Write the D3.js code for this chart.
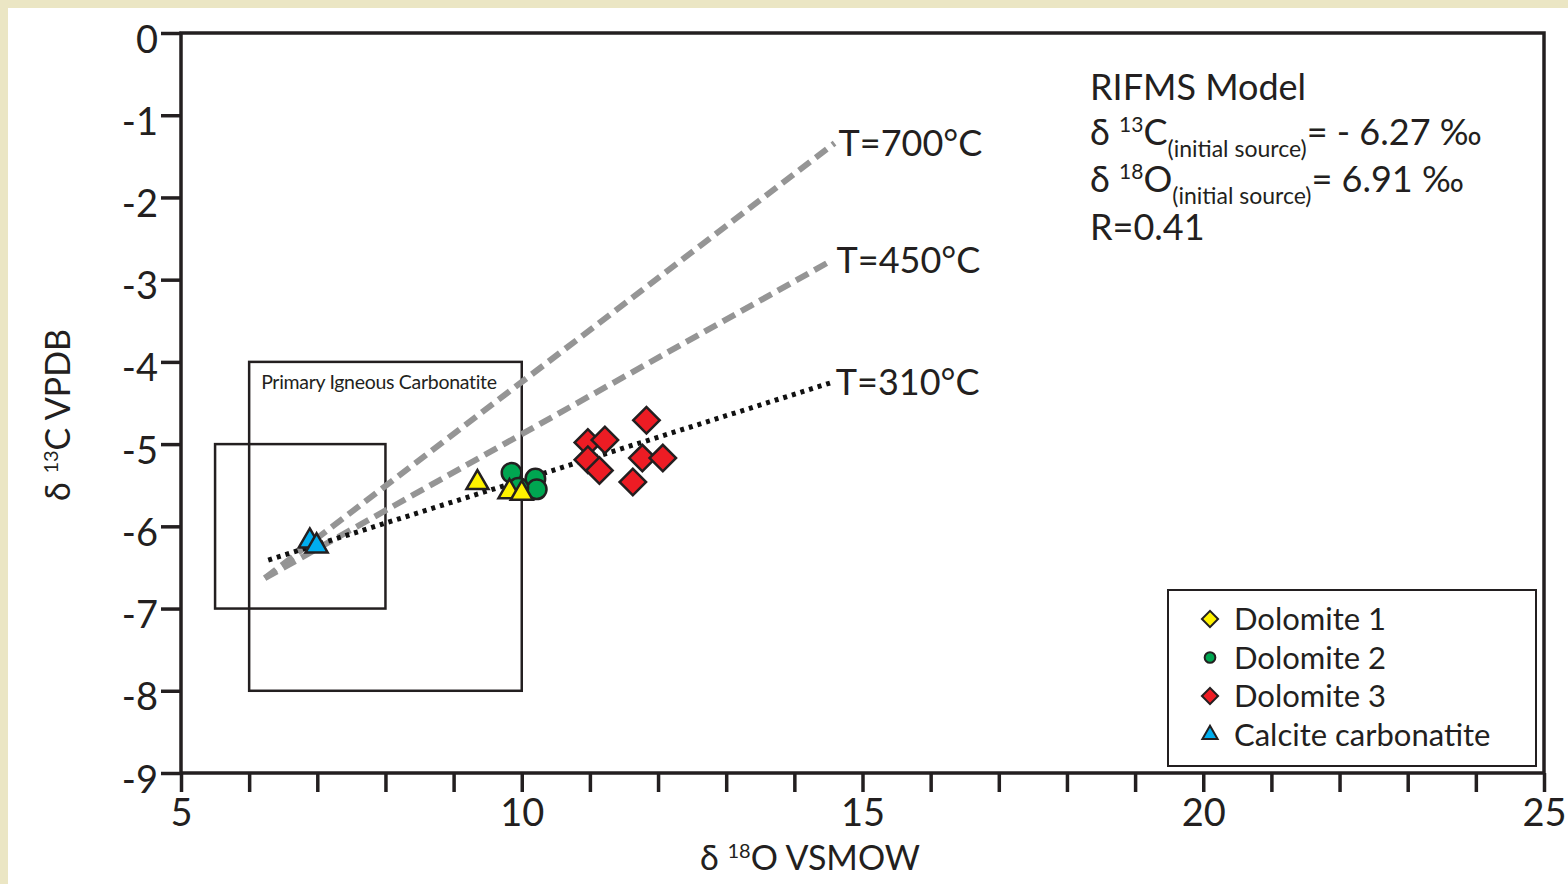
<!DOCTYPE html>
<html>
<head>
<meta charset="utf-8">
<script src="https://cdn.jsdelivr.net/npm/d3@7"></script>
<style>
  body { margin: 0; background: #fff; }
  text { font-family: Lato, "Open Sans", sans-serif; fill: #231f20; }
</style>
</head>
<body>
<script>
var canvasWidth = 1568;
var canvasHeight = 884;
var margin = { top: 33, right: 24, bottom: 111, left: 181 };
var width = canvasWidth - margin.left - margin.right;
var height = canvasHeight - margin.top - margin.bottom;

// data (d18O VSMOW, d13C VPDB)
var calcite = [[6.89, -6.18], [6.99, -6.24]];
var dolomite1 = [[9.35, -5.47], [9.82, -5.58], [10.0, -5.6]];
var dolomite2 = [[9.85, -5.35], [10.2, -5.42], [10.22, -5.55], [9.95, -5.53]];
var dolomite3 = [[10.97, -4.98], [11.22, -4.95], [11.83, -4.71], [10.97, -5.19],
                 [11.14, -5.32], [11.77, -5.17], [12.07, -5.17], [11.63, -5.46]];

// RIFMS model curves: start and end points
var curveNames = ["T=700°C", "T=450°C", "T=310°C"];
var curve700 = [[6.23, -6.63], [14.59, -1.34]];
var curve450 = [[6.23, -6.63], [14.56, -2.76]];
var curve310 = [[6.28, -6.41], [14.55, -4.25]];

// boxes [x0, x1, y0, y1]
var igneousBox = [6, 10, -4, -8];
var innerBox = [5.5, 8, -5, -7];

var xTicks = d3.range(5, 26, 1);
var xLabels = [5, 10, 15, 20, 25];
var yTicks = d3.range(0, -10, -1);

var legendNames = ["Dolomite 1", "Dolomite 2", "Dolomite 3", "Calcite carbonatite"];
var colors = { d1: "#fff200", d2: "#00a651", d3: "#ed1c24", cal: "#00aeef" };

var svg = d3.select("body").append("svg")
    .attr("width", canvasWidth)
    .attr("height", canvasHeight);

// background frame
svg.append("rect").attr("width", canvasWidth).attr("height", canvasHeight).attr("fill", "#ebe6c4");
svg.append("rect").attr("x", 8).attr("y", 8).attr("width", canvasWidth - 8).attr("height", canvasHeight - 8).attr("fill", "#fff");

var xScale = d3.scaleLinear().domain([5, 25]).range([0, width]);
var yScale = d3.scaleLinear().domain([0, -9]).range([0, height]);

var g = svg.append("g")
    .attr("transform", "translate(" + margin.left + "," + margin.top + ")");

var ink = "#231f20";

// boxes
[igneousBox, innerBox].forEach(function(b) {
    g.append("rect")
        .attr("x", xScale(b[0]))
        .attr("y", yScale(b[2]))
        .attr("width", xScale(b[1]) - xScale(b[0]))
        .attr("height", yScale(b[3]) - yScale(b[2]))
        .attr("fill", "none")
        .attr("stroke", ink)
        .attr("stroke-width", 2.5);
});
g.append("text")
    .attr("x", xScale(igneousBox[0]) + 12)
    .attr("y", yScale(igneousBox[2]) + 27)
    .attr("font-size", "19.5px")
    .attr("letter-spacing", "-0.3px")
    .text("Primary Igneous Carbonatite");

// model curves
var line = d3.line().x(d => xScale(d[0])).y(d => yScale(d[1]));
[curve700, curve450].forEach(function(c) {
    g.append("path").attr("d", line(c))
        .attr("fill", "none").attr("stroke", "#959595")
        .attr("stroke-width", 6).attr("stroke-dasharray", "14,7");
});
g.append("path").attr("d", line(curve310))
    .attr("fill", "none").attr("stroke", "#111")
    .attr("stroke-width", 5).attr("stroke-dasharray", "4,5");

[curve700, curve450, curve310].forEach(function(c, i) {
    g.append("text")
        .attr("x", xScale(c[1][0]) + 4)
        .attr("y", yScale(c[1][1]) + 13)
        .attr("font-size", "36px")
        .text(curveNames[i]);
});

// markers
var tri = d3.symbol().type(d3.symbolTriangle).size(210);
var dia = d3.symbol().type(d3.symbolSquare).size(350);
var circ = d3.symbol().type(d3.symbolCircle).size(300);

g.selectAll(".d3").data(dolomite3).enter().append("path")
    .attr("d", dia)
    .attr("transform", d => "translate(" + xScale(d[0]) + "," + yScale(d[1]) + ") rotate(45)")
    .attr("fill", colors.d3).attr("stroke", ink).attr("stroke-width", 2.5);

g.selectAll(".d2").data(dolomite2).enter().append("path")
    .attr("d", circ)
    .attr("transform", d => "translate(" + xScale(d[0]) + "," + yScale(d[1]) + ")")
    .attr("fill", colors.d2).attr("stroke", ink).attr("stroke-width", 2.5);

g.selectAll(".d1").data(dolomite1).enter().append("path")
    .attr("d", tri)
    .attr("transform", d => "translate(" + xScale(d[0]) + "," + yScale(d[1]) + ")")
    .attr("fill", colors.d1).attr("stroke", ink).attr("stroke-width", 2.5);

g.selectAll(".cal").data(calcite).enter().append("path")
    .attr("d", tri)
    .attr("transform", d => "translate(" + xScale(d[0]) + "," + yScale(d[1]) + ")")
    .attr("fill", colors.cal).attr("stroke", ink).attr("stroke-width", 2.5);

// axes
var xAxis = g.append("g")
    .attr("transform", "translate(0," + height + ")")
    .call(d3.axisBottom(xScale).tickValues(xTicks).tickSize(19).tickPadding(4)
        .tickFormat(d => xLabels.indexOf(d) >= 0 ? d : ""));
var yAxis = g.append("g")
    .call(d3.axisLeft(yScale).tickValues(yTicks).tickSize(20).tickPadding(3)
        .tickFormat(d => d === 0 ? "0" : "-" + Math.abs(d)));

[xAxis, yAxis].forEach(function(a) {
    a.select(".domain").remove();
    a.selectAll(".tick line").attr("stroke", ink).attr("stroke-width", 3.5);
    a.selectAll(".tick text").attr("font-size", "38px").attr("font-family", "Lato").attr("fill", ink);
});
yAxis.selectAll(".tick text").attr("dy", "0.5em");
xAxis.selectAll(".tick text").attr("dy", "0.78em");

// plot frame
g.append("rect")
    .attr("width", width).attr("height", height)
    .attr("fill", "none").attr("stroke", ink).attr("stroke-width", 3.5);

// axis titles
svg.append("text")
    .attr("transform", "translate(70," + 415 + ") rotate(-90)")
    .attr("text-anchor", "middle")
    .attr("font-size", "34px")
    .call(t => {
        t.append("tspan").text("δ ");
        t.append("tspan").attr("font-size", "20px").attr("dy", -12).text("13");
        t.append("tspan").attr("dy", 12).text("C VPDB");
    });

svg.append("text")
    .attr("x", 810).attr("y", 870)
    .attr("text-anchor", "middle")
    .attr("font-size", "34px")
    .call(t => {
        t.append("tspan").text("δ ");
        t.append("tspan").attr("font-size", "20px").attr("dy", -12).text("18");
        t.append("tspan").attr("dy", 12).text("O VSMOW");
    });

// model annotation
var ann = svg.append("g").attr("transform", "translate(1090,0)");
ann.append("text").attr("y", 100).attr("font-size", "36px").text("RIFMS Model");
function isoLine(y, sup, el, value) {
    ann.append("text").attr("y", y).attr("font-size", "36px")
        .call(t => {
            t.append("tspan").text("δ ");
            t.append("tspan").attr("font-size", "21px").attr("dy", -13).text(sup);
            t.append("tspan").attr("dy", 13).text(el);
            t.append("tspan").attr("font-size", "23px").attr("dy", 12).text("(initial source)");
            t.append("tspan").attr("dy", -12).text(value);
        });
}
isoLine(145, "13", "C", "= - 6.27 ‰");
isoLine(192, "18", "O", "= 6.91 ‰");
ann.append("text").attr("y", 240).attr("font-size", "36px").text("R=0.41");

// legend
var lg = svg.append("g").attr("transform", "translate(1168,590)");
lg.append("rect").attr("width", 368).attr("height", 176)
    .attr("fill", "#fff").attr("stroke", ink).attr("stroke-width", 2);
var legendMarks = [
    { sym: d3.symbol().type(d3.symbolSquare).size(130), fill: colors.d1, rot: 45 },
    { sym: d3.symbol().type(d3.symbolCircle).size(90), fill: colors.d2, rot: 0 },
    { sym: d3.symbol().type(d3.symbolSquare).size(130), fill: colors.d3, rot: 45 },
    { sym: d3.symbol().type(d3.symbolTriangle).size(100), fill: colors.cal, rot: 0 }
];
legendNames.forEach(function(name, i) {
    var y = 29 + i * 38.5;
    lg.append("path").attr("d", legendMarks[i].sym())
        .attr("transform", "translate(42," + y + ") rotate(" + legendMarks[i].rot + ")")
        .attr("fill", legendMarks[i].fill).attr("stroke", ink).attr("stroke-width", 2);
    lg.append("text").attr("x", 66).attr("y", y + 11).attr("font-size", "31px").text(name);
});
</script>
</body>
</html>
